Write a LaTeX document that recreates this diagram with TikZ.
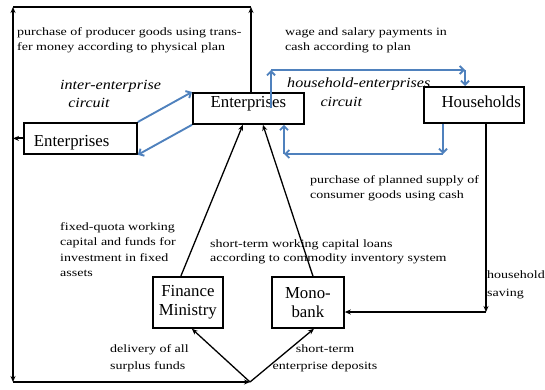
\documentclass[tikz,border=0pt]{standalone}
\usepackage{fontspec}
\usepackage{graphicx}
\setmainfont{Liberation Serif}
\usetikzlibrary{arrows.meta}
\definecolor{lineblue}{RGB}{79,129,189}
\newcommand{\wideL}[1]{\scalebox{1.25}[1]{\begin{tabular}{@{}l@{}}#1\end{tabular}}}
\newcommand{\wideC}[1]{\scalebox{1.25}[1]{\begin{tabular}{@{}c@{}}#1\end{tabular}}}
\newcommand{\wideI}[1]{\scalebox{1.15}[1]{\begin{tabular}{@{}l@{}}#1\end{tabular}}}
\begin{document}
\begin{tikzpicture}[x=1pt,y=-1pt,
  box/.style={draw,line width=1.8pt,inner ysep=0pt,font=\fontsize{16.8}{18.5}\selectfont},
  lbl/.style={inner sep=0pt,anchor=north west,font=\fontsize{11.2}{15}\selectfont},
  circ/.style={inner sep=0pt,anchor=north west,font=\itshape\fontsize{14}{18}\selectfont},
  flow/.style={line width=1.8pt,-{Stealth[length=6pt,width=5pt]}},
  plain/.style={line width=1.8pt},
  thinflow/.style={line width=1.3pt,-{Stealth[length=6pt,width=5pt]}},
  bflow/.style={draw=lineblue,line width=1.9pt,-{Straight Barb[length=4pt,width=8pt]}},
]
\useasboundingbox (0,0) rectangle (545,390);
% boxes
\node[box,anchor=north west,minimum width=113pt,text width=93pt,inner xsep=10pt,align=left,
      text height=24pt,text depth=7pt] (entL) at (23,122) {Enterprises};
\node[box,anchor=north west,minimum width=111pt,text width=95pt,inner xsep=8pt,align=center,
      text height=15pt,text depth=16pt] (entC) at (192,92) {Enterprises};
\node[box,anchor=north west,minimum width=100pt,text width=94pt,inner xsep=3pt,align=right,
      text height=21pt,text depth=15pt] (hh) at (423,86) {Households};
\node[box,anchor=north west,minimum width=70pt,minimum height=51pt,text width=66pt,inner xsep=2pt,align=center] (fin) at (152,276) {Finance\\Ministry};
\node[box,anchor=north west,minimum width=72pt,minimum height=51pt,text width=68pt,inner xsep=2pt,align=center] (mono) at (271,276) {Mono-\\bank};
% free ends
\coordinate (tl) at (13,7);
\coordinate (tr) at (251,7);
\coordinate (bl) at (13,382);
\coordinate (bm) at (250,382);
\coordinate (hc) at (486,312);
\coordinate (hu1) at (271,70);
\coordinate (hu2) at (465,70);
\coordinate (hd1) at (443,154);
\coordinate (hd2) at (284,154);
% black outer loop
\draw[flow] (entC.north -| tr) -- (tr);
\draw[plain] (tr) -- (tl);
\draw[line width=1.8pt,{Stealth[length=6pt,width=5pt]}-{Stealth[length=6pt,width=5pt]}] (tl) -- (bl);
\draw[flow] (entL.west) -- (entL.west -| tl);
\draw[flow] (bl) -- (bm);
\draw[thinflow] (bm) -- ([xshift=4pt]fin.south);
\draw[thinflow] (bm) -- ([xshift=6pt]mono.south);
\draw[thinflow] ([xshift=-7pt]fin.north) -- ([xshift=-5.5pt]entC.south);
\draw[thinflow] ([xshift=5pt]mono.north) -- ([xshift=14.5pt]entC.south);
\draw[flow] (hh.south -| hc) -- (hc);
\draw[flow] (hc) -- (mono.east |- hc);
% blue circuits
\draw[bflow] (entL.north east) -- (entC.north west);
\draw[bflow] (entC.south west) -- (entL.south east);
\draw[bflow] (entC.center -| hu1) -- (hu1);
\draw[bflow] (hu1) -- (hu2);
\draw[bflow] (hu2) -- (hh.north -| hu2);
\draw[bflow] (hh.south -| hd1) -- (hd1);
\draw[bflow] (hd1) -- (hd2);
\draw[bflow] (hd2) -- (entC.south -| hd2);
% labels
\node[lbl] (l1) at (17,24.5) {\wideL{purchase of producer goods using trans-\\fer money according to physical plan}};
\node[lbl] (l2) at (285,24.5) {\wideL{wage and salary payments in\\cash according to plan}};
\node[circ] (c1) at (60,76.4) {\wideI{inter-enterprise\\\hspace*{7pt}circuit}};
\node[circ,font=\itshape\fontsize{14}{19}\selectfont] (c2) at (287,73.7) {\wideI{household-enterprises\\\hspace*{29pt}circuit}};
\node[lbl] (l3) at (310,172.5) {\wideL{purchase of planned supply of\\consumer goods using cash}};
\node[lbl,font=\fontsize{11.2}{15.5}\selectfont] (l4) at (60,219.2) {\wideL{fixed-quota working\\capital and funds for\\investment in fixed\\assets}};
\node[lbl,font=\fontsize{11.2}{14}\selectfont] (l5) at (210,237.2) {\wideL{short-term working capital loans\\according to commodity inventory system}};
\node[lbl,font=\fontsize{11.2}{18}\selectfont] (l6) at (487,265.4) {\wideL{household\\saving}};
\node[lbl,font=\fontsize{11.2}{17}\selectfont] (l7) at (110,340.1) {\wideL{delivery of all\\surplus funds}};
\node[lbl,anchor=north,font=\fontsize{11.2}{17}\selectfont] (l8) at (325,340.1) {\wideC{short-term\\enterprise deposits}};
\end{tikzpicture}
\end{document}
